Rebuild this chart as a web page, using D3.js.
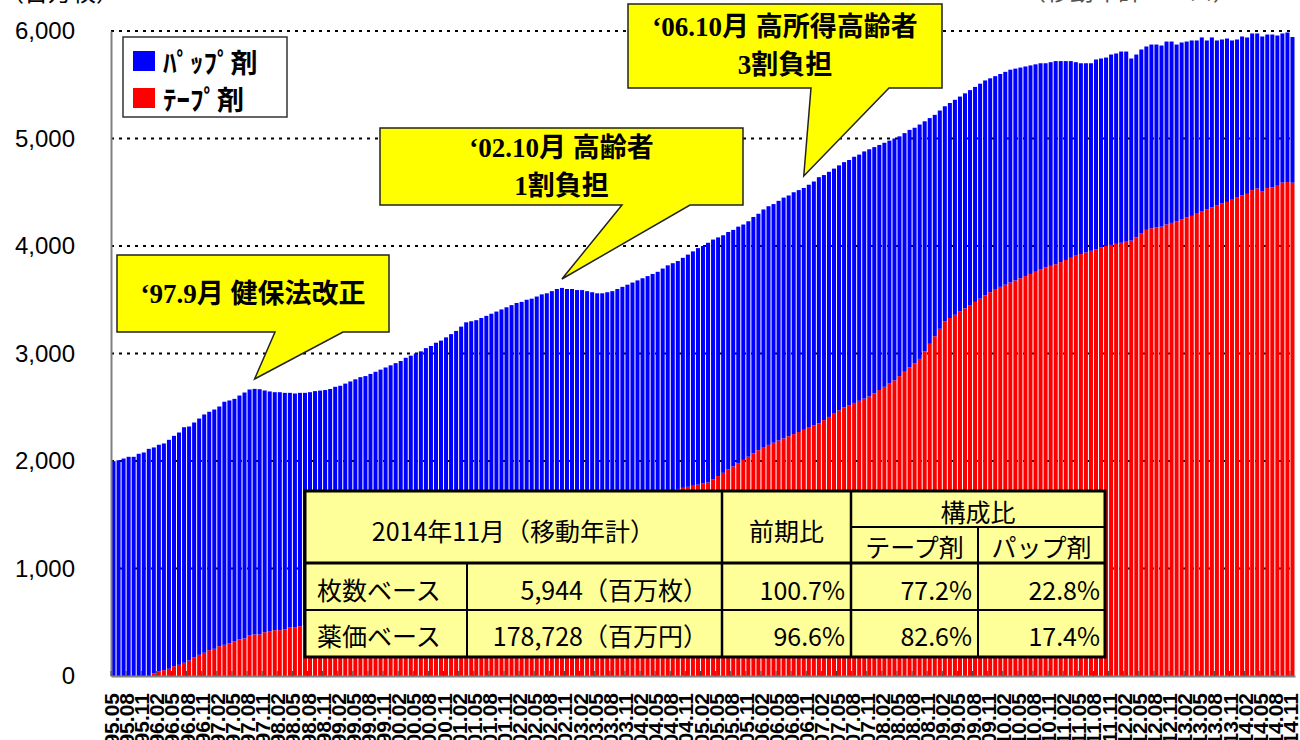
<!DOCTYPE html>
<html>
<head>
<meta charset="utf-8">
<script src="https://cdn.jsdelivr.net/npm/d3@7"></script>
<style>
  body { margin: 0; background: #fff; }
  svg { display: block; }
</style>
</head>
<body>
<div id="chart"></div>
<script>
"use strict";

// months: 1995.05 .. 2014.11 (moving annual total, monthly)
const startYear = 1995, startMonth = 5, monthCount = 235;

// total sheets (百万枚) = tape + pap
const totalValues = [
  1998,2007,2023,2039,2039,2067,2079,2113,2126,2151,2163,2197,2234,2265,2314,2321,2358,2395,2433,2458,
  2479,2507,2551,2563,2578,2609,2637,2665,2671,2668,2656,2647,2640,2640,2634,2634,2628,2634,2634,
  2640,2650,2655,2660,2670,2690,2700,2720,2740,2760,2780,2790,2810,2830,2850,2870,2890,2910,2930,2960,2980,
  3000,3020,3050,3070,3100,3120,3150,3180,3210,3250,3290,3300,3310,3330,3350,3370,3390,3410,3430,3450,
  3470,3480,3500,3510,3530,3550,3560,3580,3600,3610,3600,3600,3590,3590,3580,3570,3560,3560,3570,3580,
  3600,3620,3640,3660,3680,3700,3720,3740,3760,3790,3820,3840,3860,3890,3920,3950,3980,4000,4030,4060,
  4080,4100,4130,4150,4180,4200,4230,4270,4300,4340,4370,4390,4420,4450,4470,4500,4520,4540,4570,4600,
  4640,4660,4690,4720,4750,4780,4800,4830,4850,4880,4900,4920,4940,4960,4980,5000,5020,5050,5080,5100,
  5130,5160,5190,5220,5260,5300,5330,5360,5390,5420,5450,5480,5510,5540,5560,5580,5600,5620,5640,5650,
  5660,5670,5680,5690,5700,5700,5710,5720,5720,5720,5720,5710,5700,5700,5700,5735,5744,5753,5781,5791,
  5809,5809,5744,5781,5828,5856,5874,5874,5865,5902,5902,5874,5893,5902,5912,5912,5940,5912,5940,5912,
  5921,5930,5912,5921,5949,5940,5977,5977,5949,5967,5967,5958,5977,5986,5944
];

// テープ剤 (tape) sheets
const tapeValues = [
  0,0,0,0,0,0,0,0,
  26,42,54,67,91,104,123,144,175,197,216,240,253,277,290,305,324,340,349,377,386,386,407,417,426,426,435,454,454,463,470,
  480,490,500,515,530,545,560,575,590,605,620,635,650,665,680,700,720,740,760,780,800,
  820,840,860,880,900,920,940,960,985,1010,1035,1060,1085,1110,1135,1160,1185,1210,1235,1260,
  1280,1300,1320,1340,1360,1380,1400,1420,1440,1460,1475,1490,1505,1520,1535,1550,1565,1580,1595,1610,
  1620,1630,1640,1650,1660,1670,1680,1690,1700,1710,1720,1730,1740,1750,1760,1770,1780,1790,1800,1830,
  1860,1890,1920,1950,1980,2010,2040,2070,2100,2130,2150,2170,2190,2210,2230,2250,2270,2290,2310,2330,
  2350,2380,2410,2440,2470,2500,2520,2540,2560,2580,2600,2630,2660,2690,2720,2750,2790,2830,2870,2910,
  2950,3020,3090,3160,3230,3300,3330,3360,3390,3420,3450,3480,3510,3540,3570,3600,3620,3640,3660,3680,
  3700,3720,3740,3760,3780,3800,3815,3830,3850,3870,3890,3910,3925,3940,3955,3970,3985,4000,4010,4020,
  4030,4040,4050,4080,4120,4150,4165,4175,4180,4200,4215,4230,4250,4265,4280,4300,4320,4340,4360,4380,
  4395,4410,4430,4450,4470,4485,4520,4535,4510,4540,4545,4560,4590,4595,4589
];

const yTicks = [0, 1000, 2000, 3000, 4000, 5000, 6000];
const seriesKeys = ["tape", "pap"];
const seriesNames = { pap: "ﾊﾟｯﾌﾟ剤", tape: "ﾃｰﾌﾟ剤" };
const seriesColors = { pap: "#0000ff", tape: "#ff0000" };

const tableHeader = ["2014年11月（移動年計）", "前期比", "構成比", "テープ剤", "パップ剤"];
const tableRows = [
  ["枚数ベース", "5,944（百万枚）", "100.7%", "77.2%", "22.8%"],
  ["薬価ベース", "178,728（百万円）", "96.6%", "82.6%", "17.4%"]
];

const callouts = [
  { lines: ["‘97.9月 健保法改正"], month: "97.09", box: [117, 255, 389, 332], base: [275, 343], tipY: 379 },
  { lines: ["‘02.10月 高齢者", "1割負担"], month: "02.10", box: [380, 128, 743, 205], base: [622, 690], tipY: 279 },
  { lines: ["‘06.10月 高所得高齢者", "3割負担"], month: "06.10", box: [628, 4, 942, 88], base: [811, 889], tipY: 176 }
];

// build month labels
const months = [];
for (let i = 0; i < monthCount; i++) {
  const m = startMonth - 1 + i;
  const yy = (startYear + Math.floor(m / 12)) % 100;
  const mm = (m % 12) + 1;
  months.push(String(yy).padStart(2, "0") + "." + String(mm).padStart(2, "0"));
}

const rows = months.map((m, i) => ({
  month: m,
  tape: tapeValues[i],
  pap: totalValues[i] - tapeValues[i]
}));

const W = 1300, H = 740;
const plot = { left: 111, right: 1295, top: 31, bottom: 676 };

const svg = d3.select("#chart").append("svg")
  .attr("width", W).attr("height", H)
  .style("font-family", "'Liberation Sans', Arial, sans-serif");

const x = d3.scaleBand()
  .domain(months)
  .range([plot.left, plot.right])
  .paddingInner(0.2)
  .paddingOuter(0.1);

const y = d3.scaleLinear()
  .domain([0, 6000])
  .range([plot.bottom, plot.top]);

// gridlines (dotted)
svg.append("g")
  .selectAll("line")
  .data(yTicks.filter(d => d > 0))
  .join("line")
  .attr("x1", plot.left).attr("x2", plot.right)
  .attr("y1", d => y(d)).attr("y2", d => y(d))
  .attr("stroke", "#000")
  .attr("stroke-width", 2)
  .attr("stroke-dasharray", "3,5");

// stacked bars
const stacked = d3.stack().keys(seriesKeys)(rows);
svg.append("g")
  .selectAll("g")
  .data(stacked)
  .join("g")
  .attr("fill", d => seriesColors[d.key])
  .selectAll("rect")
  .data(d => d)
  .join("rect")
  .attr("x", d => x(d.data.month))
  .attr("y", d => y(d[1]))
  .attr("width", x.bandwidth())
  .attr("height", d => y(d[0]) - y(d[1]));

// y axis
const yAxis = svg.append("g")
  .attr("transform", `translate(${plot.left},0)`)
  .call(d3.axisLeft(y).tickValues(yTicks).tickFormat(d3.format(",")).tickSize(0).tickPadding(36));
yAxis.select(".domain").attr("stroke", "#808080").attr("stroke-width", 2);
yAxis.selectAll("text").attr("font-size", 24).attr("fill", "#000");

// x axis
const xTickMonths = months.filter((m, i) => i % 3 === 0);
const xAxis = svg.append("g")
  .attr("transform", `translate(0,${plot.bottom})`)
  .call(d3.axisBottom(x).tickValues(xTickMonths).tickSize(0).tickPadding(0));
xAxis.select(".domain").attr("stroke", "#808080").attr("stroke-width", 2);
xAxis.selectAll("text")
  .attr("font-size", 21)
  .attr("font-weight", "bold")
  .attr("fill", "#000")
  .attr("text-anchor", "end")
  .attr("dy", null)
  .attr("transform", "translate(-2,17) rotate(-90)")
  .attr("dominant-baseline", "central");

// inward tick marks every 3 months
svg.append("g")
  .selectAll("line")
  .data(xTickMonths)
  .join("line")
  .attr("x1", d => x(d) - x.step() * x.paddingInner() / 2)
  .attr("x2", d => x(d) - x.step() * x.paddingInner() / 2)
  .attr("y1", plot.bottom)
  .attr("y2", plot.bottom - 5)
  .attr("stroke", "#404040")
  .attr("stroke-width", 1);

// unit labels at the top (cut off by the frame)
svg.append("text")
  .attr("x", 0).attr("y", 1)
  .attr("font-family", "'Noto Sans CJK JP'")
  .attr("font-size", 24)
  .text("（百万枚）");
svg.append("text")
  .attr("x", 1022).attr("y", 0)
  .attr("font-family", "'Noto Sans CJK JP'")
  .attr("font-size", 24)
  .attr("fill", "#555")
  .text("（移動年計ベース）");

// legend
const legend = svg.append("g");
legend.append("rect")
  .attr("x", 123).attr("y", 37).attr("width", 164).attr("height", 80)
  .attr("fill", "#fff").attr("stroke", "#333").attr("stroke-width", 1.5);
["pap", "tape"].forEach((k, i) => {
  legend.append("rect")
    .attr("x", 133).attr("y", 51 + i * 37).attr("width", 22).attr("height", 20)
    .attr("fill", seriesColors[k]);
  legend.append("text")
    .attr("x", 163).attr("y", 61 + i * 37)
    .attr("dominant-baseline", "central")
    .attr("font-family", "'Noto Sans CJK JP'")
    .attr("font-weight", "bold")
    .attr("font-size", 27)
    .text(seriesNames[k]);
});

// callouts
callouts.forEach(c => {
  const [x0, y0, x1, y1] = c.box;
  const tipX = x(c.month) + x.bandwidth() / 2;
  const pts = [[x0, y0], [x1, y0], [x1, y1], [c.base[1], y1], [tipX, c.tipY], [c.base[0], y1], [x0, y1]];
  const g = svg.append("g");
  g.append("path")
    .attr("d", "M" + pts.map(p => p.join(",")).join("L") + "Z")
    .attr("fill", "#ffff00")
    .attr("stroke", "#222")
    .attr("stroke-width", 1.5)
    .attr("stroke-linejoin", "miter");
  const cx = (x0 + x1) / 2;
  const lineH = 38;
  const cy = (y0 + y1) / 2 - (c.lines.length - 1) * lineH / 2;
  c.lines.forEach((t, i) => {
    g.append("text")
      .attr("x", cx).attr("y", cy + i * lineH)
      .attr("text-anchor", "middle")
      .attr("dominant-baseline", "central")
      .attr("font-family", "'Liberation Serif', 'Noto Sans CJK JP'")
      .attr("font-weight", "bold")
      .attr("font-size", 27)
      .text(t);
  });
});

// summary table
const tb = { left: 305, right: 1105, top: 491, bottom: 657 };
const colX = [305, 467, 722, 851, 978, 1105];
const rowY = [491, 527, 563, 610, 657];
const table = svg.append("g").attr("font-family", "'Noto Sans CJK JP'").attr("font-size", 25);
table.append("rect")
  .attr("x", tb.left).attr("y", tb.top)
  .attr("width", tb.right - tb.left).attr("height", tb.bottom - tb.top)
  .attr("fill", "#ffff99");

const tLines = [
  [colX[1], rowY[2], colX[1], rowY[4], 2],
  [colX[2], rowY[0], colX[2], rowY[4], 2.5],
  [colX[3], rowY[0], colX[3], rowY[4], 2.5],
  [colX[4], rowY[1], colX[4], rowY[4], 2],
  [colX[3], rowY[1], colX[5], rowY[1], 2],
  [colX[0], rowY[2], colX[5], rowY[2], 3],
  [colX[0], rowY[3], colX[5], rowY[3], 2]
];
table.selectAll("line.in")
  .data(tLines)
  .join("line")
  .attr("x1", d => d[0]).attr("y1", d => d[1])
  .attr("x2", d => d[2]).attr("y2", d => d[3])
  .attr("stroke", "#000").attr("stroke-width", d => d[4]);
table.append("rect")
  .attr("x", tb.left).attr("y", tb.top)
  .attr("width", tb.right - tb.left).attr("height", tb.bottom - tb.top)
  .attr("fill", "none").attr("stroke", "#000").attr("stroke-width", 3);

function cell(t, xPos, yPos, anchor) {
  table.append("text")
    .attr("x", xPos).attr("y", yPos)
    .attr("text-anchor", anchor)
    .attr("dominant-baseline", "central")
    .text(t);
}
cell(tableHeader[0], (colX[0] + colX[2]) / 2, 530, "middle");
cell(tableHeader[1], (colX[2] + colX[3]) / 2, 530, "middle");
cell(tableHeader[2], (colX[3] + colX[5]) / 2, 511, "middle");
cell(tableHeader[3], (colX[3] + colX[4]) / 2, 546, "middle");
cell(tableHeader[4], (colX[4] + colX[5]) / 2, 546, "middle");
tableRows.forEach((r, i) => {
  const cy = i === 0 ? 589 : 635;
  cell(r[0], colX[0] + 12, cy, "start");
  cell(r[1], colX[2] - 14, cy, "end");
  cell(r[2], colX[3] - 6, cy, "end");
  cell(r[3], colX[4] - 6, cy, "end");
  cell(r[4], colX[5] - 5, cy, "end");
});
</script>
</body>
</html>
